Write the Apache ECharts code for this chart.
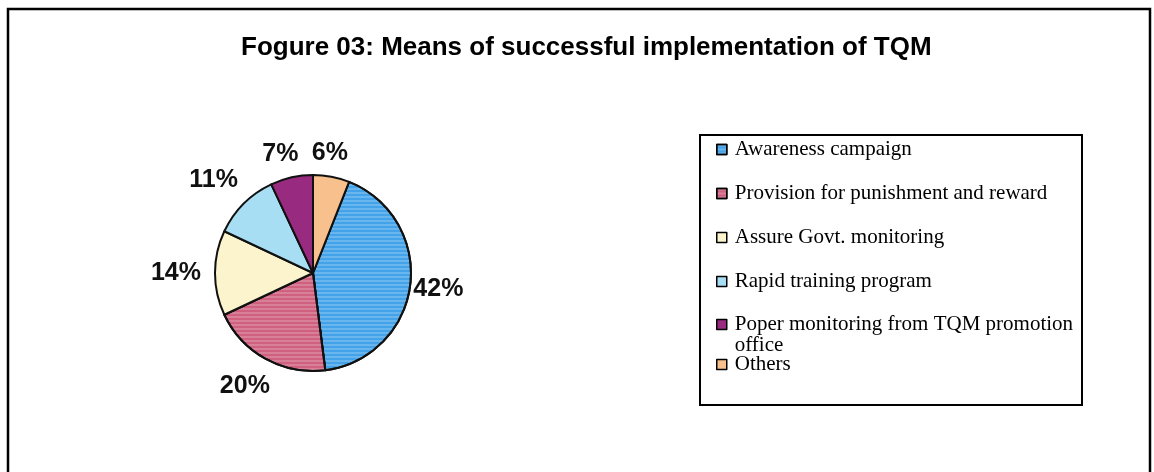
<!DOCTYPE html>
<html>
<head>
<meta charset="utf-8">
<script src="https://cdn.jsdelivr.net/npm/echarts@6/dist/echarts.min.js"></script>
<style>html,body{margin:0;padding:0;background:#fff}#c{width:1154px;height:472px}</style>
</head>
<body>
<div id="c"></div>
<script>
const titleText = 'Fogure 03: Means of successful implementation of TQM';
const categories = [
  'Awareness campaign',
  'Provision for punishment and reward',
  'Assure Govt. monitoring',
  'Rapid training program',
  'Poper monitoring from TQM promotion office',
  'Others'
];
const values = [42, 20, 14, 11, 7, 6];
const colors = ['#44a2e8', '#d0607f', '#fbf4cc', '#a8def3', '#982a80', '#f7c08c'];

const chart = echarts.init(document.getElementById('c'));

const pieData = categories.map((name, i) => {
  const item = { name: name, value: values[i], itemStyle: { color: colors[i] } };
  if (i < 2) {
    item.itemStyle.decal = {
      symbol: 'rect', dashArrayX: [1, 0], dashArrayY: [2, 2],
      color: 'rgba(255,255,255,0.2)', rotation: 0
    };
  }
  return item;
});

const legendText = { fontFamily: 'Liberation Serif', fontSize: 21, color: '#000', lineHeight: 21, padding: [0, 0, 0, 3] };
const legendCommon = {
  orient: 'vertical', left: 716, itemWidth: 10, itemHeight: 10, itemGap: 23, padding: 0,
  icon: 'rect', selectedMode: false,
  itemStyle: { borderColor: '#000', borderWidth: 1.5 },
  textStyle: legendText
};

const LABEL_GAP = 8;
const LABEL_SHIFT_X = -6;

chart.setOption({
  animation: false,
  backgroundColor: '#fff',
  title: {
    text: titleText, left: 236, top: 30,
    textStyle: { fontFamily: 'Liberation Sans', fontWeight: 'bold', fontSize: 26, color: '#000' }
  },
  graphic: [
    { type: 'rect', shape: { x: 8, y: 9, width: 1142, height: 480 }, style: { fill: null, stroke: '#000', lineWidth: 2.5 }, silent: true },
    { type: 'rect', shape: { x: 700, y: 135, width: 382, height: 270 }, style: { fill: null, stroke: '#000', lineWidth: 2 }, silent: true }
  ],
  legend: [
    Object.assign({}, legendCommon, { top: 139, data: categories.slice(0, 4) }),
    Object.assign({}, legendCommon, {
      top: 293,
      data: [categories[4]],
      formatter: () => '\nPoper monitoring from TQM promotion\noffice'
    }),
    Object.assign({}, legendCommon, { top: 354, data: [categories[5]] })
  ],
  series: [{
    type: 'pie',
    center: [313, 273],
    radius: 98,
    startAngle: 90 - values[5] / 100 * 360,
    clockwise: true,
    data: pieData,
    itemStyle: { borderColor: '#111', borderWidth: 2 },
    emphasis: { disabled: true },
    label: {
      show: true, position: 'outside', formatter: '{c}%',
      fontFamily: 'Liberation Sans', fontWeight: 'bold', fontSize: 25, color: '#111'
    },
    labelLine: { show: false, length: 10, length2: 0 },
    labelLayout: function (p) {
      const pts = p.labelLinePoints;
      if (!pts) return {};
      const dx = pts[1][0] - pts[0][0], dy = pts[1][1] - pts[0][1];
      const len = Math.sqrt(dx * dx + dy * dy) || 1;
      const ux = dx / len, uy = dy / len;
      const w = p.labelRect.width, h = p.labelRect.height;
      const d = LABEL_GAP + Math.abs(ux) * w / 2 + Math.abs(uy) * h / 2;
      return {
        x: pts[0][0] + ux * d + LABEL_SHIFT_X,
        y: pts[0][1] + uy * d,
        align: 'center',
        verticalAlign: 'middle'
      };
    }
  }]
});
</script>
</body>
</html>
